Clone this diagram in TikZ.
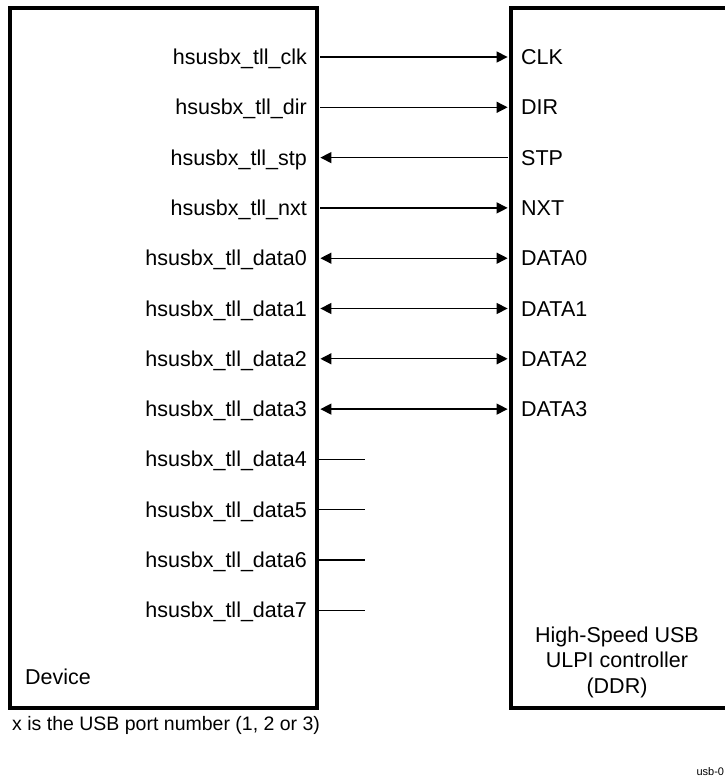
\documentclass[tikz,border=0pt]{standalone}
\usepackage{fontspec}
\setmainfont{Liberation Sans}
\usetikzlibrary{arrows.meta,positioning}

\begin{document}
\begin{tikzpicture}[x=1pt, y=-1pt,
  font=\fontsize{21.5}{25.5}\selectfont,
  blk/.style={draw, line width=3.4pt, inner sep=0pt},
  lbl/.style={inner sep=0pt, text height=15pt, text depth=0pt},
  sig/.style={line width=1.3pt, shorten >=1.7pt, shorten <=1.7pt},
  fwd/.style={-{Triangle[length=11pt, width=11pt]}},
  back/.style={{Triangle[length=11pt, width=11pt]}-},
  both/.style={{Triangle[length=11pt, width=11pt]}-{Triangle[length=11pt, width=11pt]}}]
\useasboundingbox (0,0) rectangle (725,777);
% blocks
\node[blk, minimum width=307pt, minimum height=700pt] (dev) at (163.5,358) {};
\node[blk, minimum width=249pt, minimum height=700pt] (ctrl) at (635.5,358) {};
\node[anchor=base west, inner sep=0pt] (devtxt) at (25,684) {Device};
\node[align=center] (ctrltxt) at (617,662) {High-Speed USB\\ULPI controller\\(DDR)};
% connected signals
\foreach \sig/\pin/\dir [count=\i from 0] in {clk/CLK/fwd, dir/DIR/fwd, stp/STP/back, nxt/NXT/fwd,
    data0/DATA0/both, data1/DATA1/both, data2/DATA2/both, data3/DATA3/both} {
  \node[lbl, anchor=east] (s\i) at (307,57+50.3*\i) {hsusbx\_tll\_\sig};
  \node[lbl, anchor=west] (p\i) at (521,57+50.3*\i) {\pin};
  \draw[sig, \dir] (dev.east |- s\i) -- (ctrl.west |- p\i);
}
% unused data lines
\foreach \sig [count=\i from 8] in {data4, data5, data6, data7} {
  \node[lbl, anchor=east] (s\i) at (307,57+50.3*\i) {hsusbx\_tll\_\sig};
  \draw[line width=1.3pt] (dev.east |- s\i) -- ++(46,0);
}
% notes
\node[anchor=base west, inner sep=0pt, font=\fontsize{19.5}{24}\selectfont] (note) at (12,730) {x is the USB port number (1, 2 or 3)};
\node[anchor=base west, font=\fontsize{11}{13}\selectfont] (figid) at (693,775) {usb-0};
\end{tikzpicture}
\end{document}
